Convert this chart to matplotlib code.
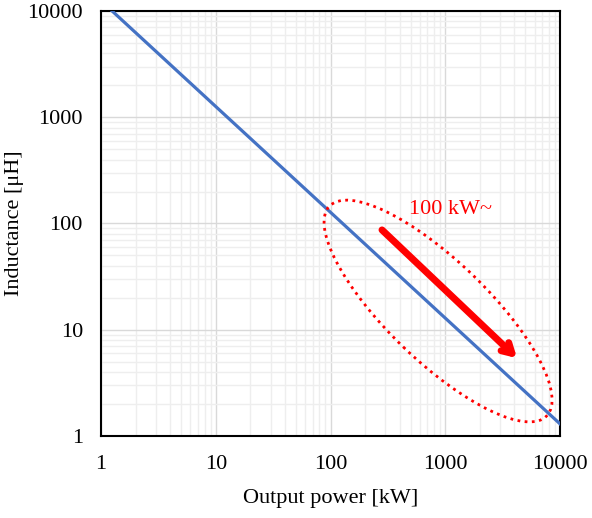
import numpy as np
import matplotlib.pyplot as plt
from matplotlib.patches import Ellipse
from matplotlib.transforms import ScaledTranslation
from matplotlib.ticker import LogLocator, FixedLocator, NullFormatter

plt.rcParams['font.family'] = ['Liberation Serif', 'DejaVu Serif']

# data
power_kw = [1.25, 10000]
inductance_uh = [10000, 1.3]
x_ticks = [1, 10, 100, 1000, 10000]
y_ticks = [1, 10, 100, 1000, 10000]

fig = plt.figure(figsize=(5.92, 5.18), dpi=100)
ax = fig.add_axes([0.1706, 0.1583, 0.7754, 0.8205])

ax.plot(power_kw, inductance_uh, color='#4472C4', lw=2.3, zorder=3)

ax.set_xscale('log')
ax.set_yscale('log')
ax.set_xlim(1, 10000)
ax.set_ylim(1, 10000)

ax.xaxis.set_major_locator(FixedLocator(x_ticks))
ax.yaxis.set_major_locator(FixedLocator(y_ticks))
ax.set_xticklabels([str(t) for t in x_ticks])
ax.set_yticklabels([str(t) for t in y_ticks])
for a in (ax.xaxis, ax.yaxis):
    a.set_minor_locator(LogLocator(base=10, subs=np.arange(2, 10)))
    a.set_minor_formatter(NullFormatter())

ax.grid(which='major', color='#d9d9d9', lw=1.0)
ax.grid(which='minor', color='#eeeeee', lw=1.0)
ax.set_axisbelow(True)
ax.tick_params(which='both', length=0, labelsize=16)
ax.tick_params(axis='x', pad=14)
ax.tick_params(axis='y', pad=13)

for s in ax.spines.values():
    s.set_linewidth(1.5)
    s.set_color('black')

ax.set_xlabel('Output power [kW]', fontsize=16)
ax.set_ylabel('Inductance [μH]', fontsize=16)
ax.xaxis.set_label_coords(0.5, -0.125)
ax.yaxis.set_label_coords(-0.168, 0.5)

# dotted ellipse around the high power region
trans = fig.dpi_scale_trans + ScaledTranslation(865, 15.0, ax.transData)
ell = Ellipse((0, 0), width=3.02, height=1.0, angle=-44, transform=trans,
              fill=False, edgecolor='red', ls=(0, (1, 1.6)), lw=2.0, zorder=4)
ax.add_patch(ell)

ax.annotate('', xy=(4220, 5.4), xytext=(281, 87),
            arrowprops=dict(arrowstyle='->,head_length=0.7,head_width=0.4',
                            color='red', lw=5, shrinkA=0, shrinkB=0), zorder=5)
ax.text(1100, 134, '100 kW~', color='red', fontsize=16, ha='center', va='center')

fig.savefig('out.png', dpi=100)
